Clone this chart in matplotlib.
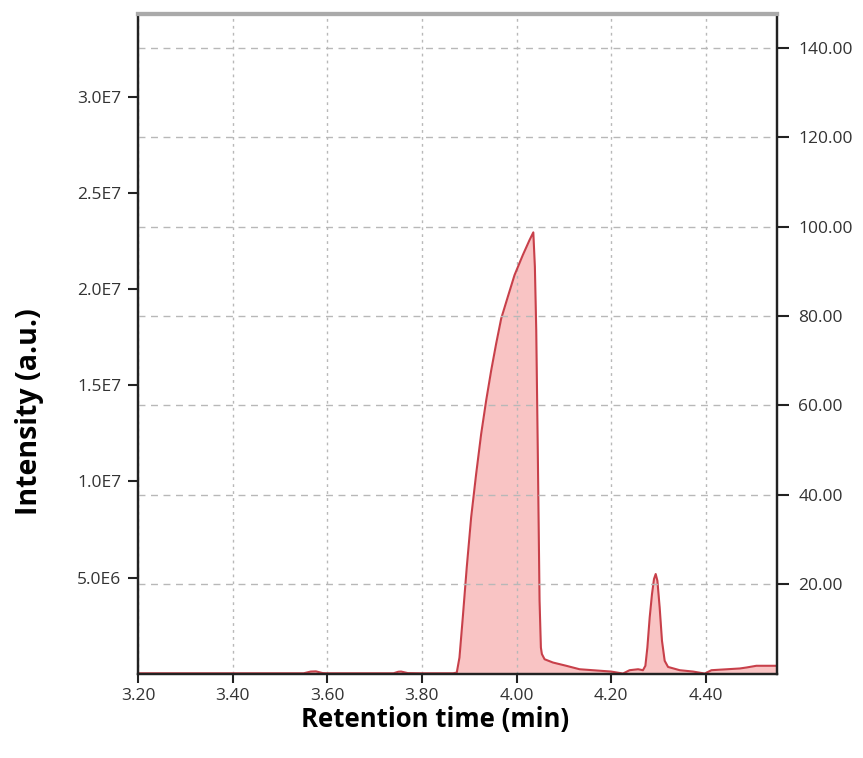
import matplotlib.pyplot as plt

# chromatogram trace
rt_min = [3.20, 3.40, 3.55, 3.565, 3.576, 3.59, 3.60, 3.74, 3.75, 3.756, 3.77, 3.80,
          3.866, 3.8737, 3.8794, 3.8864, 3.8948, 3.9041, 3.9147, 3.9253, 3.9359,
          3.9465, 3.9570, 3.9676, 3.9816, 3.9958, 4.0133, 4.0275, 4.0355,
          4.0388, 4.0417, 4.0451, 4.0487, 4.0515, 4.0536, 4.0593, 4.0769, 4.1051,
          4.1333, 4.20, 4.225, 4.239, 4.257, 4.2673, 4.2724, 4.2766, 4.2815, 4.2864,
          4.2906, 4.2942, 4.2978, 4.3026, 4.3075, 4.3132, 4.3203, 4.345, 4.3731,
          4.3979, 4.412, 4.472, 4.486, 4.507, 4.55]
intensity = [3e4, 3e4, 3e4, 1.2e5, 1.3e5, 4e4, 3e4, 3e4, 1.1e5, 1.2e5, 4e4, 3e4,
             3e4, 6.8e4, 8.5e5, 2.93e6, 5.54e6, 8.14e6, 1.04e7, 1.248e7, 1.422e7,
             1.578e7, 1.717e7, 1.847e7, 1.960e7, 2.073e7, 2.177e7, 2.255e7, 2.295e7,
             2.116e7, 1.786e7, 1.127e7, 3.8e6, 1.37e6, 1.03e6, 7.6e5, 5.9e5, 4.2e5,
             2.4e5, 1.2e5, 1.6e4, 1.9e5, 2.4e5, 1.9e5, 4.2e5, 1.37e6, 2.93e6, 4.15e6,
             4.93e6, 5.19e6, 4.84e6, 3.45e6, 1.72e6, 6.8e5, 3.6e5, 1.9e5, 1.2e5,
             1.6e4, 1.9e5, 2.8e5, 3.3e5, 4.2e5, 4.2e5]

x_ticks = [3.20, 3.40, 3.60, 3.80, 4.00, 4.20, 4.40]
left_ticks = [5e6, 1e7, 1.5e7, 2e7, 2.5e7, 3e7]
left_labels = ["5.0E6", "1.0E7", "1.5E7", "2.0E7", "2.5E7", "3.0E7"]
right_ticks = [20, 40, 60, 80, 100, 120, 140]

fig = plt.figure(figsize=(8.63, 7.58), dpi=100)
ax = fig.add_axes([0.160, 0.111, 0.740, 0.8705])
ax2 = ax.twinx()

line_col = "#c8404a"
fill_col = "#f9c4c4"
ax.fill_between(rt_min, 0, intensity, color=fill_col, lw=0)
ax.plot(rt_min, intensity, color=line_col, lw=1.5)

ax.set_xlim(3.20, 4.55)
ax.set_ylim(0, 3.43e7)
ax2.set_ylim(0, 147.5)

ax.set_xticks(x_ticks)
ax.set_xticklabels(["%.2f" % v for v in x_ticks])
ax.set_yticks(left_ticks)
ax.set_yticklabels(left_labels)
ax2.set_yticks(right_ticks)
ax2.set_yticklabels(["%.2f" % v for v in right_ticks])

tick_font = ["Open Sans", "DejaVu Sans"]
for a in (ax, ax2):
    for s in ("left", "bottom", "right"):
        a.spines[s].set_color("#222222")
        a.spines[s].set_linewidth(1.6)
    a.spines["top"].set_color("#aaaaaa")
    a.spines["top"].set_linewidth(3)
ax.tick_params(axis="x", direction="out", length=6.5, width=1.5, colors="#222222",
               labelsize=12.5, labelcolor="#333333", pad=4)
ax.tick_params(axis="y", direction="out", length=7.2, width=1.5, colors="#222222",
               labelsize=12.5, labelcolor="#333333", pad=5)
ax2.tick_params(axis="y", direction="out", length=8.6, width=1.5, colors="#222222",
                labelsize=12.5, labelcolor="#333333", pad=7)
for lab in ax.get_xticklabels() + ax.get_yticklabels() + ax2.get_yticklabels():
    lab.set_family(tick_font)

ax.grid(True, axis="x", color="#b8b8b8", ls=(0, (2, 3)), lw=1)
ax2.grid(True, axis="y", color="#b8b8b8", ls=(0, (5, 4)), lw=1)

lab_font = ["Open Sans", "DejaVu Sans"]
fig.text(435 / 863, 1 - 719 / 758, "Retention time (min)", fontsize=18.5,
         fontweight="bold", family=lab_font, ha="center", va="center")
fig.text(29 / 863, 1 - 412 / 758, "Intensity (a.u.)", fontsize=20.5,
         fontweight="bold", family=lab_font, ha="center", va="center", rotation=90)

fig.savefig("out.png", dpi=100)
